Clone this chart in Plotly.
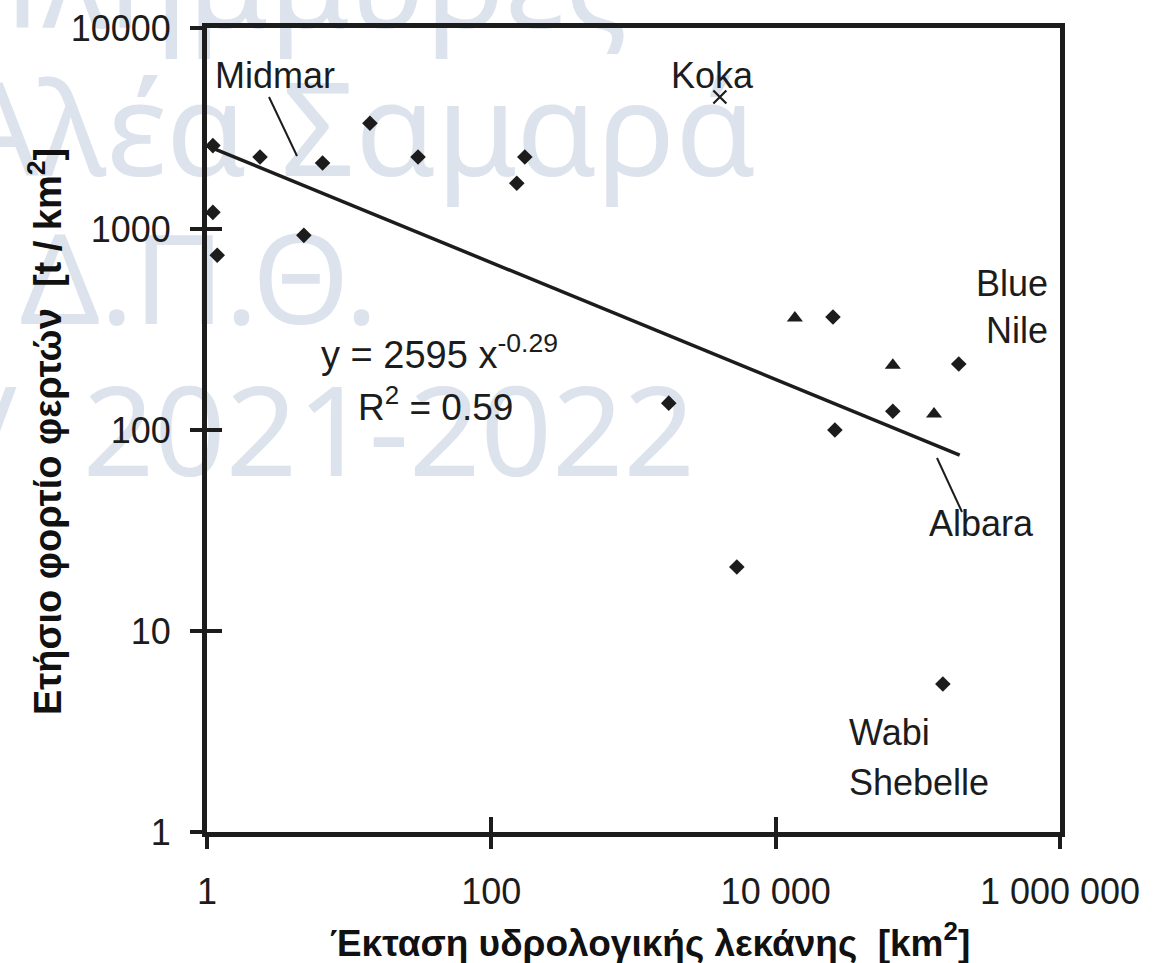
import plotly.graph_objects as go

W, H = 1168, 963

# ---------------- data ----------------
area_diamond = [1.1, 1.1, 1.18, 2.36, 4.8, 6.5, 14.0, 30.5, 151, 172,
                1770, 5330, 25300, 26100, 66700, 150000, 194000]
load_diamond = [2600, 1210, 740, 2280, 930, 2130, 3360, 2280, 1690, 2280,
                136, 20.8, 365, 100, 124, 5.45, 213]
area_triangle = [13650, 66700, 130000]
load_triangle = [361, 210, 120]
area_koka = [4050]
load_koka = [4540]
trend_area = [1, 197000]
trend_load = [2595, 75]

x_tickvals = [1, 100, 10000, 1000000]
x_ticktext = ["1", "100", "10 000", "1 000 000"]
y_tickvals = [1, 10, 100, 1000, 10000]
y_ticktext = ["1", "10", "100", "1000", "10000"]

watermark_lines = ["Πλημμύρες", "Αλέα Σαμαρά", "Δ.Π.Θ.", "/  2021-2022"]

x_title = "<b>Έκταση υδρολογικής λεκάνης  [km<sup>2</sup>]</b>"
y_title = "<b>Ετήσιο φορτίο φερτών  [t / km<sup>2</sup>]</b>"

# ---------------- layout helpers ----------------
def px(x):
    return x / W

def py(y):
    return 1 - y / H

L, R, T, B = 207, 1060, 28, 832
FONT = "Liberation Sans, Arial, Helvetica, sans-serif"
INK = "#1c1c1c"
WM = "rgb(221,227,236)"

fig = go.Figure()

# data
fig.add_trace(go.Scatter(
    x=trend_area, y=trend_load, mode="lines",
    line=dict(color=INK, width=3.5), showlegend=False, hoverinfo="skip"))
fig.add_trace(go.Scatter(
    x=area_diamond, y=load_diamond, mode="markers",
    marker=dict(symbol="diamond", size=12, color=INK, line=dict(width=0)),
    showlegend=False))
fig.add_trace(go.Scatter(
    x=area_triangle, y=load_triangle, mode="markers",
    marker=dict(symbol="triangle-up", size=14, color=INK, line=dict(width=0)),
    showlegend=False))
fig.add_trace(go.Scatter(
    x=area_koka, y=load_koka, mode="markers",
    marker=dict(symbol="x-thin-open", size=13, color=INK,
                line=dict(width=2.2, color=INK)),
    showlegend=False))
# helper trace for the inner tick axes
fig.add_trace(go.Scatter(x=[None], y=[None], xaxis="x2", yaxis="y2",
                         showlegend=False, hoverinfo="skip"))

xdom = [px(L), px(R)]
ydom = [py(B), py(T)]

axis_common = dict(showgrid=False, zeroline=False, ticks="outside",
                   ticklen=12, tickwidth=4, tickcolor=INK,
                   showline=True, linewidth=5, linecolor=INK, mirror=True,
                   tickfont=dict(family=FONT, size=36, color=INK),
                   ticklabelstandoff=12, automargin=False)
inner_common = dict(ticks="inside", ticklen=15, tickwidth=4, tickcolor=INK,
                    showticklabels=False, showgrid=False, zeroline=False,
                    showline=False, automargin=False)

fig.update_layout(
    template="none",
    width=W, height=H,
    margin=dict(l=0, r=0, t=0, b=0, pad=0, autoexpand=False),
    paper_bgcolor="white", plot_bgcolor="rgba(0,0,0,0)",
    xaxis=dict(domain=xdom, type="log", range=[0, 6], anchor="y",
               tickvals=x_tickvals, ticktext=x_ticktext, **axis_common),
    yaxis=dict(domain=ydom, type="log", range=[0, 4], anchor="x",
               tickvals=y_tickvals, ticktext=y_ticktext, **axis_common),
    xaxis2=dict(overlaying="x", type="log", range=[0, 6], anchor="y2",
                tickvals=x_tickvals, **inner_common),
    yaxis2=dict(overlaying="y", type="log", range=[0, 4], anchor="x2",
                tickvals=y_tickvals, **inner_common),
    showlegend=False,
)

# watermark: label-only shapes in the layer below the data
wm_x = [287, 356, 14, 333]
wm_pos = ["middle center", "middle center", "middle left", "middle center"]
wm_base = [32, 180, 328, 480]
wm_size = [130, 130, 125, 125]
for t, x, b, s, p in zip(watermark_lines, wm_x, wm_base, wm_size, wm_pos):
    yc = b - 0.35 * s
    if p == "middle left":
        x0, x1 = x, x + 900
    else:
        x0, x1 = x - 600, x + 600
    fig.add_shape(type="rect", xref="paper", yref="paper",
                  x0=px(x0), x1=px(x1), y0=py(yc + 100), y1=py(yc - 100),
                  line=dict(width=0), fillcolor="rgba(0,0,0,0)", layer="below",
                  label=dict(text=t, textposition=p,
                             font=dict(family="Noto Sans", size=s, color=WM)))

def ann(text, x, y, size=36, xanchor="center", align="center"):
    fig.add_annotation(text=text, x=px(x), y=py(y), xref="paper", yref="paper",
                       showarrow=False, xanchor=xanchor, yanchor="middle",
                       align=align,
                       font=dict(family=FONT, size=size, color=INK))

ann("Midmar", 275, 76)
ann("Koka", 712, 75)
ann("Blue", 1050, 283, xanchor="right")
ann("Nile", 1050, 330, xanchor="right")
ann("Albara", 981, 523)
ann("Wabi", 847, 732, xanchor="left")
ann("Shebelle", 847, 782, xanchor="left")
ann("y = 2595 x<sup>-0.29</sup>", 439, 352, size=38)
ann("R<sup>2</sup> = 0.59", 435, 405, size=37)

fig.add_annotation(text=x_title, x=px(650), y=py(940), xref="paper", yref="paper",
                   showarrow=False, xanchor="center", yanchor="middle",
                   font=dict(family=FONT, size=37, color="#111"))
fig.add_annotation(text=y_title, x=px(45), y=py(432), xref="paper", yref="paper",
                   showarrow=False, xanchor="center", yanchor="middle", textangle=-90,
                   font=dict(family=FONT, size=38, color="#111"))

# leader lines
for (x0, y0, x1, y1) in [(269, 97, 297, 156), (937, 458, 962, 512)]:
    fig.add_shape(type="line", xref="paper", yref="paper",
                  x0=px(x0), y0=py(y0), x1=px(x1), y1=py(y1),
                  line=dict(color=INK, width=2), layer="above")

fig.write_html("out.html")
